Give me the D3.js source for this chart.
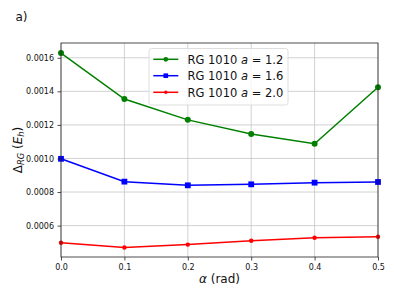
<!DOCTYPE html>
<html>
<head>
<meta charset="utf-8">
<script src="https://cdn.jsdelivr.net/npm/d3@7"></script>
<style>
  body { margin: 0; background: #fff; }
  svg { display: block; font-family: 'DejaVu Sans', sans-serif; }
</style>
</head>
<body>
<svg id="chart" width="394" height="296"></svg>
<script>
const alphas = [0.0, 0.1, 0.2, 0.3, 0.4, 0.5];
const seriesA12 = [0.001628, 0.001354, 0.00123, 0.001146, 0.001088, 0.001424];
const seriesA16 = [0.000998, 0.000862, 0.00084, 0.000846, 0.000856, 0.00086];
const seriesA20 = [0.000498, 0.00047, 0.000487, 0.00051, 0.000528, 0.000534];
const seriesNames = ['1.2', '1.6', '2.0'];
const xTicks = [0.0, 0.1, 0.2, 0.3, 0.4, 0.5];
const yTicks = [0.0006, 0.0008, 0.0010, 0.0012, 0.0014, 0.0016];

const svg = d3.select('#chart');
const box = { left: 61, right: 378, top: 43, bottom: 257 };

const x = d3.scaleLinear().domain([0, 0.5]).range([box.left, box.right]);
const y = d3.scaleLinear().domain([0.000413, 0.001688]).range([box.bottom, box.top]);

// grid
const grid = svg.append('g').attr('stroke', '#b0b0b0').attr('stroke-width', 0.8).attr('opacity', 0.7);
grid.selectAll('.gx').data(xTicks).join('line')
  .attr('x1', (d) => x(d)).attr('x2', (d) => x(d))
  .attr('y1', box.top).attr('y2', box.bottom);
grid.selectAll('.gy').data(yTicks).join('line')
  .attr('x1', box.left).attr('x2', box.right)
  .attr('y1', (d) => y(d)).attr('y2', (d) => y(d));

// series
const series = [
  { name: seriesNames[0], values: seriesA12, color: '#008000', marker: 'circle', size: 3 },
  { name: seriesNames[1], values: seriesA16, color: '#0000ff', marker: 'square', size: 2.9 },
  { name: seriesNames[2], values: seriesA20, color: '#ff0000', marker: 'circle', size: 2.2 },
];

const line = d3.line().x((d) => x(d[0])).y((d) => y(d[1]));

function drawMarker(g, s, cx, cy, scale) {
  const r = s.size * scale;
  if (s.marker === 'square') {
    g.append('rect').attr('x', cx - r).attr('y', cy - r)
      .attr('width', 2 * r).attr('height', 2 * r).attr('fill', s.color);
  } else {
    g.append('circle').attr('cx', cx).attr('cy', cy).attr('r', r).attr('fill', s.color);
  }
}

const plot = svg.append('g');
series.forEach((s) => {
  const pts = alphas.map((a, i) => [a, s.values[i]]);
  plot.append('path').datum(pts)
    .attr('d', line)
    .attr('fill', 'none')
    .attr('stroke', s.color)
    .attr('stroke-width', 1.5);
  pts.forEach((p) => drawMarker(plot, s, x(p[0]), y(p[1]), 1));
});

// axes
const xAxis = svg.append('g')
  .attr('transform', `translate(0,${box.bottom})`)
  .call(d3.axisBottom(x).tickValues(xTicks).tickFormat(d3.format('.1f')).tickSize(3.5).tickPadding(3.5));
const yAxis = svg.append('g')
  .attr('transform', `translate(${box.left},0)`)
  .call(d3.axisLeft(y).tickValues(yTicks).tickFormat(d3.format('.4f')).tickSize(3.5).tickPadding(3.5));
[xAxis, yAxis].forEach((a) => {
  a.select('.domain').remove();
  a.selectAll('line').attr('stroke', '#222').attr('stroke-width', 0.8);
  a.selectAll('text').attr('fill', '#111').style('font-size', '8px')
    .style('font-family', "'DejaVu Sans', sans-serif");
});

// frame
svg.append('rect')
  .attr('x', box.left).attr('y', box.top)
  .attr('width', box.right - box.left).attr('height', box.bottom - box.top)
  .attr('fill', 'none').attr('stroke', '#222').attr('stroke-width', 0.8);

// legend
const lg = svg.append('g');
lg.append('rect')
  .attr('x', 149).attr('y', 48.5).attr('width', 139).attr('height', 56.5)
  .attr('rx', 2.5)
  .attr('fill', 'rgba(255,255,255,0.8)')
  .attr('stroke', '#d6d6d6').attr('stroke-width', 0.8);
const rowY = [59.3, 75.7, 92.3];
series.forEach((s, i) => {
  const yy = rowY[i];
  lg.append('line').attr('x1', 153.3).attr('x2', 178.3).attr('y1', yy).attr('y2', yy)
    .attr('stroke', s.color).attr('stroke-width', 1.5);
  drawMarker(lg, s, 165.8, yy, 0.8);
  const t = lg.append('text').attr('x', 187.5).attr('y', yy + 4.3)
    .style('font-size', '11.5px').attr('fill', '#111');
  t.append('tspan').text('RG 1010 ');
  t.append('tspan').style('font-style', 'italic').text('a');
  t.append('tspan').text(` = ${s.name}`);
});

// axis labels
const xl = svg.append('text')
  .attr('x', (box.left + box.right) / 2).attr('y', 283)
  .attr('text-anchor', 'middle').style('font-size', '12px').attr('fill', '#111');
xl.append('tspan').style('font-style', 'italic').text('α');
xl.append('tspan').text(' (rad)');

const yl = svg.append('text')
  .attr('transform', `translate(21.7,${(box.top + box.bottom) / 2}) rotate(-90)`)
  .attr('text-anchor', 'middle').style('font-size', '12px').attr('fill', '#111');
yl.append('tspan').text('Δ');
yl.append('tspan').style('font-style', 'italic').style('font-size', '8.4px').attr('dy', 2.6).text('RG');
yl.append('tspan').attr('dy', -2.6).text(' (');
yl.append('tspan').style('font-style', 'italic').text('E');
yl.append('tspan').style('font-style', 'italic').style('font-size', '8.4px').attr('dy', 2.6).text('h');
yl.append('tspan').attr('dy', -2.6).text(')');

// panel tag
svg.append('text').attr('x', 15.5).attr('y', 21.3)
  .style('font-size', '12px').attr('fill', '#111').text('a)');
</script>
</body>
</html>
